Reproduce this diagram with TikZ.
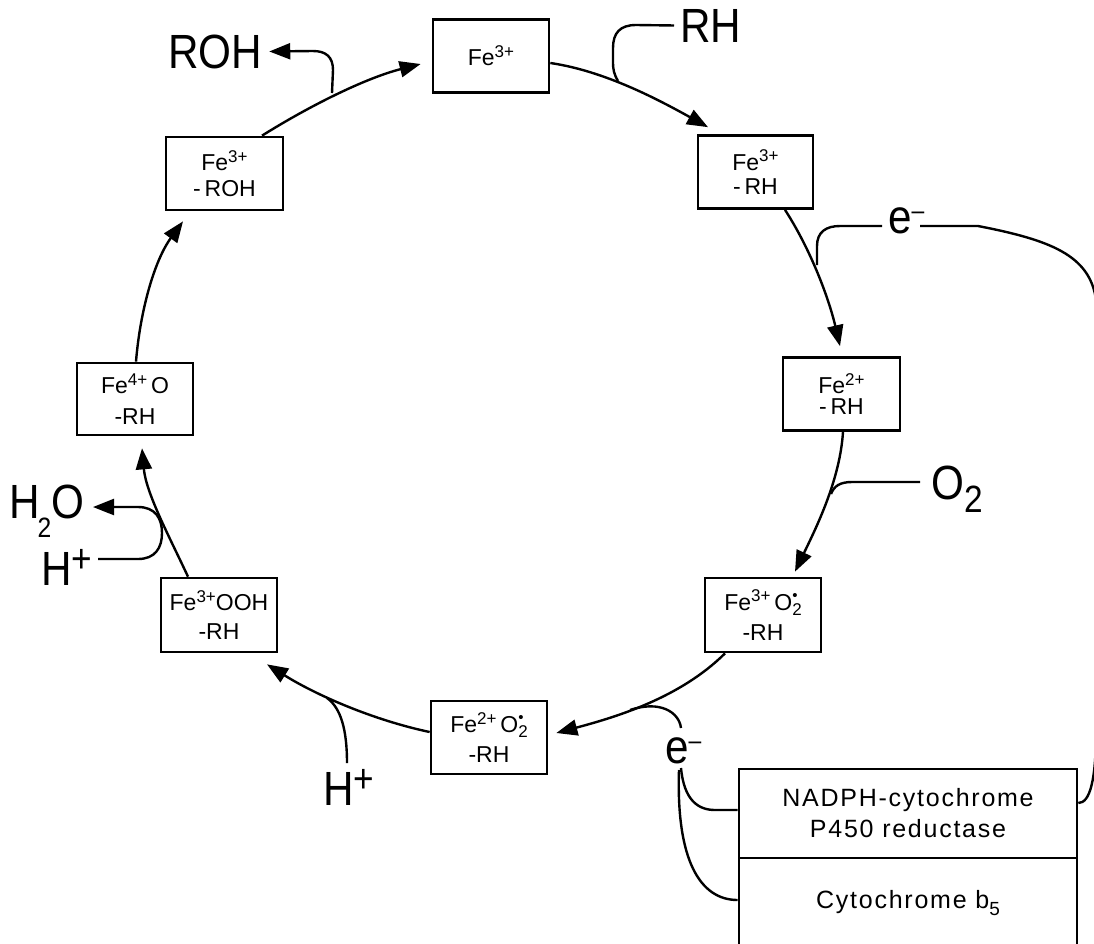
\documentclass[tikz,border=0pt]{standalone}
\usepackage{fontspec}
\setmainfont{Liberation Sans}
\newfontfamily\labfont[FakeStretch=0.88]{Liberation Sans}
\usetikzlibrary{arrows.meta,calc}
\newcommand\spr[1]{\raisebox{0.36em}{\fontsize{17}{17}\selectfont #1}}
\newcommand\radO{O\makebox[0pt][l]{\raisebox{0.42em}{\fontsize{15}{15}\selectfont\textbullet}}\raisebox{-0.22em}{\fontsize{17}{17}\selectfont 2}}
\tikzset{
  box/.style={draw, line width=2.7pt, minimum width=116pt, minimum height=73pt, inner sep=0pt, align=center},
  boxfont/.style={font=\fontsize{23}{#1}\selectfont},
  lab/.style={inner sep=0pt, anchor=base west, font=\labfont\fontsize{48}{48}\selectfont},
  flow/.style={line width=2.4pt, -{Triangle[length=21pt,width=16pt]}},
  link/.style={line width=2.4pt},
  enz/.style={draw, line width=2.7pt, minimum width=338pt, inner sep=0pt, align=center, font=\fontsize{25}{31}\selectfont\addfontfeature{LetterSpace=7}},
}
\begin{document}
\begin{tikzpicture}[x=1pt,y=-1pt]
\useasboundingbox (0,0) rectangle (1094,943);
% cycle boxes
\node[box,boxfont=26] (b1) at (491,56) {Fe\spr{3+}};
\node[box,boxfont=24,minimum width=115pt] (b2) at (755.5,172) {Fe\spr{3+}\\-\,RH};
\node[box,boxfont=21,minimum width=117pt] (b3) at (841.5,394) {Fe\spr{2+}\\-\,RH};
\node[box,boxfont=30,minimum height=74pt] (b4) at (763,615) {Fe\spr{3+}\,\radO\\-RH};
\node[box,boxfont=30] (b5) at (489,737.5) {Fe\spr{2+}\,\radO\\-RH};
\node[box,boxfont=29,minimum height=74pt] (b6) at (219,615) {Fe\spr{3+}OOH\\-RH};
\node[box,boxfont=31,minimum height=72pt] (b7) at (135,399) {Fe\spr{4+}\,O\\-RH};
\node[box,boxfont=26,minimum width=117pt] (b8) at (224.5,173.5) {Fe\spr{3+}\\-\,ROH};
% enzymes
\node[enz,minimum height=89pt] (np) at (908,813.5) {NADPH-cytochrome\\P450 reductase};
\node[enz,minimum height=90pt] (cb) at (908,903) {Cytochrome b\raisebox{-0.25em}{\fontsize{19}{19}\selectfont 5}};
% labels
\node[lab] (roh) at (168,68) {ROH};
\node[lab] (rh) at (680,42) {RH};
\node[lab] (e1) at (888,233) {e\raisebox{14pt}{\fontsize{26}{26}\selectfont –}};
\node[lab] (o2) at (931,499) {O\raisebox{-13pt}{\fontsize{38}{38}\selectfont 2}};
\node[lab] (h2o) at (9,518) {H\kern-2pt\raisebox{-19pt}{\fontsize{28}{28}\selectfont 2}O};
\node[lab] (hp1) at (41,585) {H\raisebox{13pt}{\fontsize{40}{40}\selectfont +}};
\node[lab] (hp2) at (323,805) {H\raisebox{13pt}{\fontsize{40}{40}\selectfont +}};
\node[lab] (e2) at (665,763) {e\raisebox{14pt}{\fontsize{26}{26}\selectfont –}};
% junctions on the cycle
\coordinate (jroh) at (332,93);
\coordinate (jrh) at (618,81);
\coordinate (je1) at (817,265);
\coordinate (jo2) at (831,494);
\coordinate (je2) at (630,710);
\coordinate (jh) at (327,698);
% cycle arrows
\draw[flow] ($(b8.north)+(37.5,0)$) .. controls (311,105) and (366,78) .. ($(b1.west)+(-11,8)$);
\draw[flow] ($(b1.east)+(0,7)$) .. controls (605,71) and (659,100) .. ($(b2.north)+(-47.5,-7)$);
\draw[flow] ($(b2.south)+(29.5,0)$) .. controls (811,250) and (829,299) .. ($(b3.north)+(-1.5,-10)$);
\draw[flow] ($(b3.south)+(1.5,0)$) .. controls (840,480) and (816,528) .. ($(b4.north)+(32,-5)$);
\draw[flow] ($(b4.south)+(-38,0)$) .. controls (680,698) and (616,717) .. ($(b5.east)+(8,-4.5)$);
\draw[flow] ($(b5.west)+(0,-5.5)$) .. controls (373,720) and (316,695) .. ($(b6.south)+(48,11)$);
\draw[flow] ($(b6.north)+(-31,0)$) .. controls (169,536) and (146,493) .. ($(b7.south)+(7,12)$);
\draw[flow] ($(b7.north)+(1,0)$) .. controls (140,312) and (154,261) .. ($(b8.south)+(-41.5,10)$);
% side inputs and outputs
\draw[flow] (jroh) -- (333,70) .. controls (333,57) and (326,51) .. (313,51) -- ($(roh.east)+(7,0)$);
\draw[link] (jrh) .. controls (614,74) and (613,70) .. (613,62) -- (613,48) .. controls (613,33) and (620,25) .. (636,25) -- ($(rh.west)+(-6,0)$);
\draw[link] (je1) -- (817,246) .. controls (817,232) and (826,226) .. (840,226) -- ($(e1.base west)+(-6,-7)$);
\draw[link] ($(e1.base west)+(32,-7)$) -- (978,226) .. controls (1050,240) and (1090,255) .. (1096,300) -- (1096,730) .. controls (1096,780) and (1090,803) .. ($(np.east)+(0,-10.5)$);
\draw[link] (jo2) .. controls (834,486) and (840,482) .. (852,482) -- ($(o2.base west)+(-11,-17)$);
\draw[link] (je2) .. controls (660,700) and (679,712) .. ($(e2.base west)+(16,-35)$);
\draw[link] ($(e2.base west)+(16,5)$) .. controls (684,800) and (698,810) .. (715,810) -- ($(np.west)+(0,-3.5)$);
\draw[link] ($(e2.base west)+(14,7)$) .. controls (676,860) and (700,900) .. ($(cb.west)+(0,-3)$);
\draw[link] (jh) .. controls (341,708) and (347,730) .. ($(hp2.base west)+(24,-42)$);
\draw[flow] ($(hp1.base west)+(57,-26)$) -- (138,559) .. controls (155,559) and (162,548) .. (162,533) .. controls (162,518) and (155,507) .. (138,507) -- ($(h2o.base west)+(84,-11)$);
\end{tikzpicture}
\end{document}
